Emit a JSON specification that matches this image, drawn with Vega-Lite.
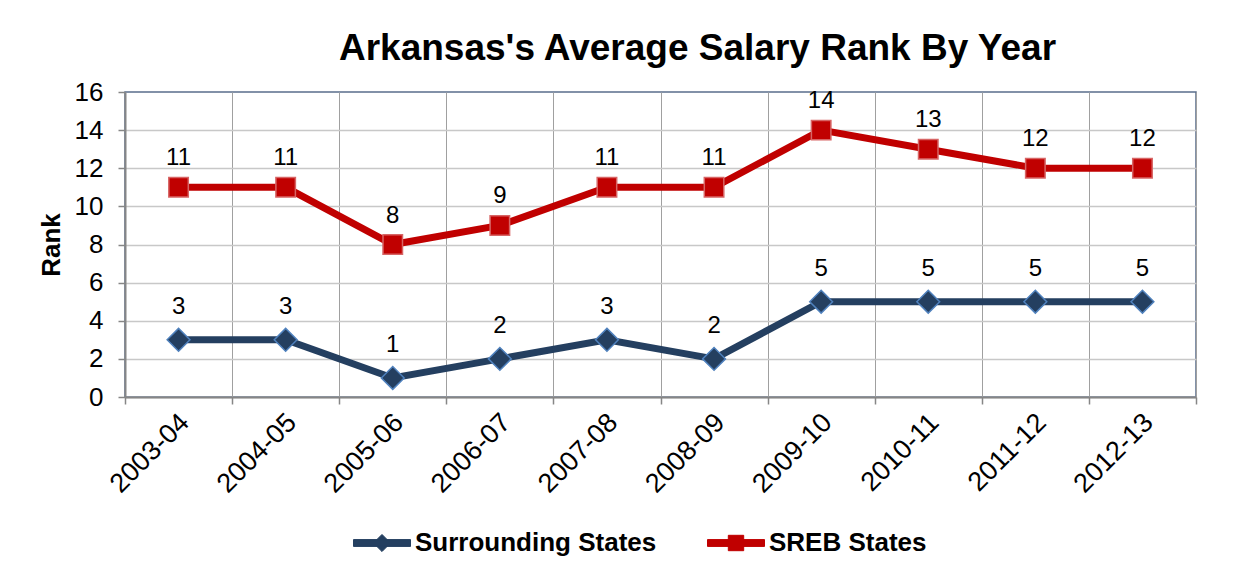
{
  "$schema": "https://vega.github.io/schema/vega-lite/v6.json",
  "autosize": {"type": "none"},
  "width": 1071,
  "height": 305,
  "padding": {"left": 125, "top": 92, "right": 37, "bottom": 172},
  "background": "white",
  "config": {
    "font": "Liberation Sans",
    "view": {"stroke": "#5a6e8c", "strokeWidth": 1.5}
  },
  "title": {
    "text": "Arkansas's Average Salary Rank By Year",
    "fontSize": 37,
    "fontWeight": "bold",
    "font": "Liberation Sans",
    "color": "black",
    "anchor": "middle",
    "baseline": "alphabetic",
    "offset": -18,
    "dx": 37
  },
  "data": {
    "values": [
      {"year": "2003-04", "series": "Surrounding States", "rank": 3},
      {"year": "2004-05", "series": "Surrounding States", "rank": 3},
      {"year": "2005-06", "series": "Surrounding States", "rank": 1},
      {"year": "2006-07", "series": "Surrounding States", "rank": 2},
      {"year": "2007-08", "series": "Surrounding States", "rank": 3},
      {"year": "2008-09", "series": "Surrounding States", "rank": 2},
      {"year": "2009-10", "series": "Surrounding States", "rank": 5},
      {"year": "2010-11", "series": "Surrounding States", "rank": 5},
      {"year": "2011-12", "series": "Surrounding States", "rank": 5},
      {"year": "2012-13", "series": "Surrounding States", "rank": 5},
      {"year": "2003-04", "series": "SREB States", "rank": 11},
      {"year": "2004-05", "series": "SREB States", "rank": 11},
      {"year": "2005-06", "series": "SREB States", "rank": 8},
      {"year": "2006-07", "series": "SREB States", "rank": 9},
      {"year": "2007-08", "series": "SREB States", "rank": 11},
      {"year": "2008-09", "series": "SREB States", "rank": 11},
      {"year": "2009-10", "series": "SREB States", "rank": 14},
      {"year": "2010-11", "series": "SREB States", "rank": 13},
      {"year": "2011-12", "series": "SREB States", "rank": 12},
      {"year": "2012-13", "series": "SREB States", "rank": 12}
    ]
  },
  "encoding": {
    "x": {
      "field": "year",
      "type": "nominal",
      "sort": null,
      "scale": {"type": "band", "paddingInner": 0, "paddingOuter": 0},
      "axis": {
        "title": null,
        "tickBand": "extent",
        "grid": true,
        "gridColor": "#a0a0a0",
        "gridWidth": 1,
        "domainColor": "#868686",
        "domainWidth": 2,
        "tickColor": "#868686",
        "tickWidth": 1.5,
        "tickSize": 7,
        "labelAngle": -45,
        "labelAlign": "right",
        "labelBaseline": "middle",
        "labelFontSize": 27,
        "labelColor": "black",
        "labelPadding": 14,
        "labelOffset": 6
      }
    },
    "y": {
      "field": "rank",
      "type": "quantitative",
      "scale": {"domain": [0, 16], "nice": false},
      "axis": {
        "title": "Rank",
        "titleFontSize": 26,
        "titleFontWeight": "bold",
        "titleColor": "black",
        "titlePadding": 10,
        "values": [0, 2, 4, 6, 8, 10, 12, 14, 16],
        "grid": true,
        "gridColor": "#c8c8c8",
        "gridWidth": 1.5,
        "gridOpacity": {"condition": {"test": "datum.value === 16", "value": 0}, "value": 1},
        "domainColor": "#868686",
        "domainWidth": 2,
        "tickColor": "#868686",
        "tickWidth": 1.5,
        "tickSize": 7,
        "labelFontSize": 26,
        "labelColor": "black",
        "labelPadding": 15
      }
    }
  },
  "layer": [
    {
      "mark": {"type": "line", "strokeWidth": 7},
      "encoding": {
        "color": {
          "field": "series",
          "type": "nominal",
          "scale": {"domain": ["Surrounding States", "SREB States"], "range": ["#243F60", "#C00000"]},
          "legend": {
            "title": null,
            "orient": "none",
            "legendX": 228,
            "legendY": 422,
            "direction": "horizontal",
            "labelFontSize": 26,
            "labelFontWeight": "bold",
            "labelColor": "black",
            "labelLimit": 500,
            "labelOffset": 4,
            "columnPadding": 48,
            "symbolSize": 3249,
            "symbolType": "M-1,-0.12H1V0.12H-1Z",
            "encode": {
              "symbols": {
                "update": {
                  "shape": {"signal": "datum.value === 'SREB States' ? 'M-1,-0.12H1V0.12H-1Z M-0.27,-0.27H0.27V0.27H-0.27Z' : 'M-1,-0.12H1V0.12H-1Z M-0.3,0L0,-0.3L0.3,0L0,0.3Z'"},
                  "fill": {"signal": "datum.value === 'SREB States' ? '#C00000' : '#243F60'"},
                  "stroke": {"signal": "datum.value === 'SREB States' ? '#C00000' : '#243F60'"},
                  "strokeWidth": {"value": 1},
                  "size": {"value": 3249},
                  "opacity": {"value": 1},
                  "fillOpacity": {"value": 1}
                }
              }
            }
          }
        }
      }
    },
    {
      "transform": [{"filter": "datum.series === 'Surrounding States'"}],
      "mark": {"type": "point", "shape": "diamond", "size": 520, "filled": true, "opacity": 1, "fill": "#243F60", "stroke": "#4F81BD", "strokeWidth": 1.5}
    },
    {
      "transform": [{"filter": "datum.series === 'SREB States'"}],
      "mark": {"type": "point", "shape": "square", "size": 380, "filled": true, "opacity": 1, "fill": "#C00000", "stroke": "#D76565", "strokeWidth": 1.5}
    },
    {
      "transform": [{"filter": "datum.series === 'SREB States'"}],
      "mark": {"type": "text", "dy": -29, "fontSize": 24, "color": "black", "baseline": "middle"},
      "encoding": {"text": {"field": "rank", "type": "quantitative"}}
    },
    {
      "transform": [{"filter": "datum.series === 'Surrounding States'"}],
      "mark": {"type": "text", "dy": -33, "fontSize": 24, "color": "black", "baseline": "middle"},
      "encoding": {"text": {"field": "rank", "type": "quantitative"}}
    }
  ]
}
